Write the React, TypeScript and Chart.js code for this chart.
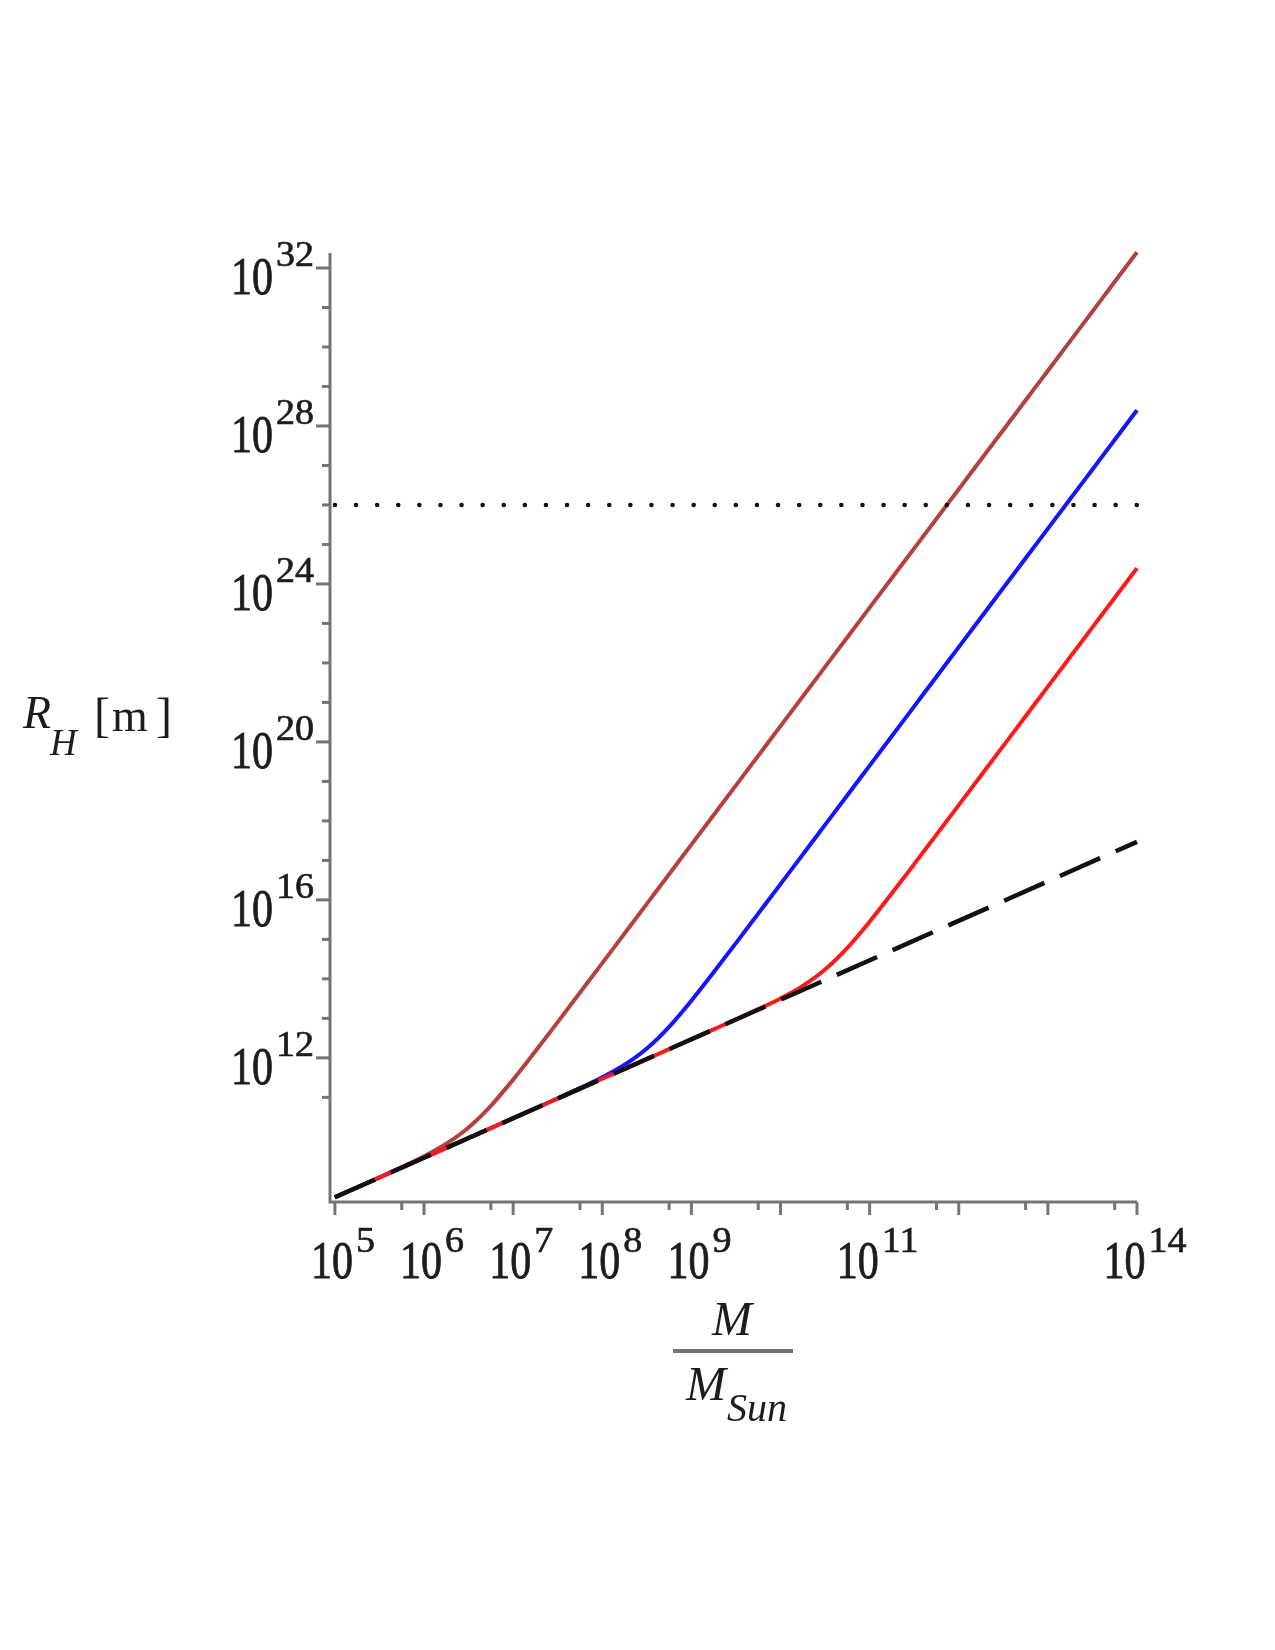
import { useEffect, useRef } from "react";
import { Chart, registerables } from "chart.js";

Chart.register(...registerables);

// Mass in solar masses (M / M_Sun)
const massValues = [
  1e5, 1.778e5, 3.162e5, 5.623e5,
  1e6, 1.778e6, 3.162e6, 5.623e6,
  1e7, 1.778e7, 3.162e7, 5.623e7,
  1e8, 1.778e8, 3.162e8, 5.623e8,
  1e9, 1.778e9, 3.162e9, 5.623e9,
  1e10, 1.778e10, 3.162e10, 5.623e10,
  1e11, 1.778e11, 3.162e11, 5.623e11,
  1e12, 1.778e12, 3.162e12, 5.623e12,
  1e13, 1.778e13, 3.162e13, 5.623e13,
  1e14,
];

// R_H [m] for each curve
const brownRadius = [
  2.95e8, 5.26e8, 9.42e8, 1.71e9,
  3.2e9, 6.67e9, 1.73e10, 6.12e10,
  2.81e11, 1.47e12, 8.04e12, 4.49e13,
  2.51e14, 1.41e15, 7.94e15, 4.47e16,
  2.51e17, 1.41e18, 7.94e18, 4.47e19,
  2.51e20, 1.41e21, 7.94e21, 4.47e22,
  2.51e23, 1.41e24, 7.94e24, 4.47e25,
  2.51e26, 1.41e27, 7.94e27, 4.47e28,
  2.51e29, 1.41e30, 7.94e30, 4.47e31,
  2.51e32,
];

const blueRadius = [
  2.95e8, 5.25e8, 9.33e8, 1.66e9,
  2.95e9, 5.25e9, 9.33e9, 1.66e10,
  2.95e10, 5.26e10, 9.42e10, 1.71e11,
  3.2e11, 6.67e11, 1.73e12, 6.12e12,
  2.81e13, 1.47e14, 8.04e14, 4.49e15,
  2.51e16, 1.41e17, 7.94e17, 4.47e18,
  2.51e19, 1.41e20, 7.94e20, 4.47e21,
  2.51e22, 1.41e23, 7.94e23, 4.47e24,
  2.51e25, 1.41e26, 7.94e26, 4.47e27,
  2.51e28,
];

const redRadius = [
  2.95e8, 5.25e8, 9.33e8, 1.66e9,
  2.95e9, 5.25e9, 9.33e9, 1.66e10,
  2.95e10, 5.25e10, 9.33e10, 1.66e11,
  2.95e11, 5.25e11, 9.33e11, 1.66e12,
  2.95e12, 5.26e12, 9.42e12, 1.71e13,
  3.2e13, 6.67e13, 1.73e14, 6.12e14,
  2.81e15, 1.47e16, 8.04e16, 4.49e17,
  2.51e18, 1.41e19, 7.94e19, 4.47e20,
  2.51e21, 1.41e22, 7.94e22, 4.47e23,
  2.51e24,
];

// Black dashed line (Schwarzschild radius)
const dashedMass = [1e5, 1e14];
const dashedRadius = [2.95e8, 2.95e17];

// Dotted horizontal line
const dottedMass = [1e5, 1e14];
const dottedRadius = [1e26, 1e26];

// Axis ticks (exponents of 10)
const xMajorTickExp = [5, 6, 7, 8, 9, 10, 11, 12, 13, 14];
const xMinorTickExp = [5.75, 6.75, 7.75, 8.75, 9.75, 10.75, 11.75, 12.75, 13.75];
const xLabelExp = ["5", "6", "7", "8", "9", "11", "14"];
const yTickExp = [11, 12, 13, 14, 15, 16, 17, 18, 19, 20, 21, 22, 23, 24, 25, 26, 27, 28, 29, 30, 31, 32];
const yLabelExp = ["12", "16", "20", "24", "28", "32"];

const AXIS_COLOR = "#747474";
const TEXT_COLOR = "#1c1c1c";
const SERIF = "'Liberation Serif', 'DejaVu Serif', serif";

function drawScaledText(ctx: CanvasRenderingContext2D, text: string, x: number, y: number, font: string, sy: number) {
  ctx.save();
  ctx.font = font;
  ctx.translate(x, y);
  ctx.scale(1, sy);
  ctx.textAlign = "left";
  ctx.textBaseline = "alphabetic";
  ctx.fillText(text, 0, 0);
  ctx.lineWidth = 0.7;
  ctx.strokeStyle = TEXT_COLOR;
  ctx.strokeText(text, 0, 0);
  ctx.restore();
}

const BASE_FONT = `42px ${SERIF}`;
const SUP_FONT = `38px ${SERIF}`;

function powWidth(ctx: CanvasRenderingContext2D, exp: string) {
  ctx.font = BASE_FONT;
  const wb = ctx.measureText("10").width;
  ctx.font = SUP_FONT;
  const ws = ctx.measureText(exp).width;
  return { wb, ws, total: wb + 3 + ws };
}

function drawPow(ctx: CanvasRenderingContext2D, exp: string, left: number, baseBaseline: number, supBaseline: number) {
  const { wb } = powWidth(ctx, exp);
  drawScaledText(ctx, "10", left, baseBaseline, BASE_FONT, 1.25);
  drawScaledText(ctx, exp, left + wb + 3, supBaseline, SUP_FONT, 0.92);
}

const axesPlugin = {
  id: "mapleAxes",
  beforeDatasetsDraw(chart: any) {
    const ctx: CanvasRenderingContext2D = chart.ctx;
    const xs = chart.scales.x;
    const ys = chart.scales.y;
    const area = chart.chartArea;
    ctx.save();
    ctx.strokeStyle = AXIS_COLOR;
    ctx.lineWidth = 3;
    ctx.lineCap = "butt";
    // axis lines
    ctx.beginPath();
    ctx.moveTo(area.left, area.top);
    ctx.lineTo(area.left, area.bottom);
    ctx.lineTo(area.right, area.bottom);
    ctx.stroke();
    // x ticks
    for (const e of xMajorTickExp) {
      const px = xs.getPixelForValue(Math.pow(10, e));
      ctx.beginPath();
      ctx.moveTo(px, area.bottom);
      ctx.lineTo(px, area.bottom + 13);
      ctx.stroke();
    }
    for (const e of xMinorTickExp) {
      const px = xs.getPixelForValue(Math.pow(10, e));
      ctx.beginPath();
      ctx.moveTo(px, area.bottom);
      ctx.lineTo(px, area.bottom + 8);
      ctx.stroke();
    }
    // y ticks
    const labelSet = new Set(yLabelExp.map(Number));
    for (const e of yTickExp) {
      const py = ys.getPixelForValue(Math.pow(10, e));
      const len = labelSet.has(e) ? 14 : 8;
      ctx.beginPath();
      ctx.moveTo(area.left, py);
      ctx.lineTo(area.left - len, py);
      ctx.stroke();
    }
    ctx.restore();
  },
  afterDatasetsDraw(chart: any) {
    const ctx: CanvasRenderingContext2D = chart.ctx;
    const xs = chart.scales.x;
    const ys = chart.scales.y;
    const area = chart.chartArea;
    ctx.save();
    ctx.fillStyle = TEXT_COLOR;
    // x tick labels
    for (const exp of xLabelExp) {
      const px = xs.getPixelForValue(Math.pow(10, Number(exp)));
      const { total } = powWidth(ctx, exp);
      const left = px + 8 - total / 2;
      drawPow(ctx, exp, left, area.bottom + 76, area.bottom + 50);
    }
    // y tick labels
    for (const exp of yLabelExp) {
      const py = ys.getPixelForValue(Math.pow(10, Number(exp)));
      const { total } = powWidth(ctx, exp);
      const left = area.left - 16 - total;
      drawPow(ctx, exp, left, py + 26, py - 2);
    }
    // y title: R_H [ m ]
    ctx.textAlign = "left";
    ctx.textBaseline = "alphabetic";
    ctx.font = `italic 46px ${SERIF}`;
    ctx.fillText("R", 23, 728);
    ctx.font = `italic 37px ${SERIF}`;
    ctx.fillText("H", 50, 755);
    ctx.font = `48px ${SERIF}`;
    ctx.fillText("[", 94, 731);
    ctx.font = `46px ${SERIF}`;
    ctx.fillText("m", 112, 731);
    ctx.font = `48px ${SERIF}`;
    ctx.fillText("]", 156, 731);
    // x title: M / M_Sun
    ctx.font = `italic 48px ${SERIF}`;
    ctx.fillText("M", 712, 1335);
    ctx.fillText("M", 686, 1400);
    ctx.font = `italic 40px ${SERIF}`;
    ctx.fillText("Sun", 727, 1421);
    ctx.strokeStyle = AXIS_COLOR;
    ctx.lineWidth = 4;
    ctx.beginPath();
    ctx.moveTo(673, 1351);
    ctx.lineTo(793, 1351);
    ctx.stroke();
    ctx.restore();
  },
};

function toPoints(xs: number[], ys: number[]) {
  return xs.map((x, i) => ({ x, y: ys[i] }));
}

export default function App() {
  const canvasRef = useRef<HTMLCanvasElement | null>(null);

  useEffect(() => {
    const canvas = canvasRef.current;
    if (!canvas) return;
    const chart = new Chart(canvas, {
      type: "line",
      data: {
        datasets: [
          {
            label: "brown",
            data: toPoints(massValues, brownRadius),
            borderColor: "#b5413f",
            borderWidth: 4,
            pointRadius: 0,
            cubicInterpolationMode: "monotone",
            clip: false,
            order: 5,
          },
          {
            label: "blue",
            data: toPoints(massValues, blueRadius),
            borderColor: "#1414ff",
            borderWidth: 4,
            pointRadius: 0,
            cubicInterpolationMode: "monotone",
            clip: false,
            order: 4,
          },
          {
            label: "red",
            data: toPoints(massValues, redRadius),
            borderColor: "#ff1a1a",
            borderWidth: 4,
            pointRadius: 0,
            cubicInterpolationMode: "monotone",
            clip: false,
            order: 3,
          },
          {
            label: "dashed",
            data: toPoints(dashedMass, dashedRadius),
            borderColor: "#111111",
            borderWidth: 4.5,
            borderDash: [44, 17],
            pointRadius: 0,
            clip: false,
            order: 2,
          },
          {
            label: "dotted",
            data: toPoints(dottedMass, dottedRadius),
            borderColor: "#111111",
            borderWidth: 4.5,
            borderDash: [0.1, 21],
            borderCapStyle: "round",
            pointRadius: 0,
            clip: false,
            order: 1,
          },
        ],
      } as any,
      options: {
        responsive: false,
        animation: false,
        devicePixelRatio: 1,
        events: [],
        layout: {
          padding: { left: 330, right: 138, top: 253, bottom: 448 },
        },
        plugins: {
          legend: { display: false },
          title: { display: false },
          tooltip: { enabled: false },
        },
        scales: {
          x: {
            type: "logarithmic",
            display: false,
            min: Math.pow(10, 4.945),
            max: 1e14,
          },
          y: {
            type: "logarithmic",
            display: false,
            min: Math.pow(10, 8.35),
            max: Math.pow(10, 32.38),
          },
        },
      } as any,
      plugins: [axesPlugin],
    });
    return () => chart.destroy();
  }, []);

  return (
    <div style={{ position: "absolute", left: 0, top: 0, width: 1275, height: 1650, background: "#fff" }}>
      <canvas ref={canvasRef} width={1275} height={1650} style={{ display: "block", width: 1275, height: 1650 }} />
    </div>
  );
}
